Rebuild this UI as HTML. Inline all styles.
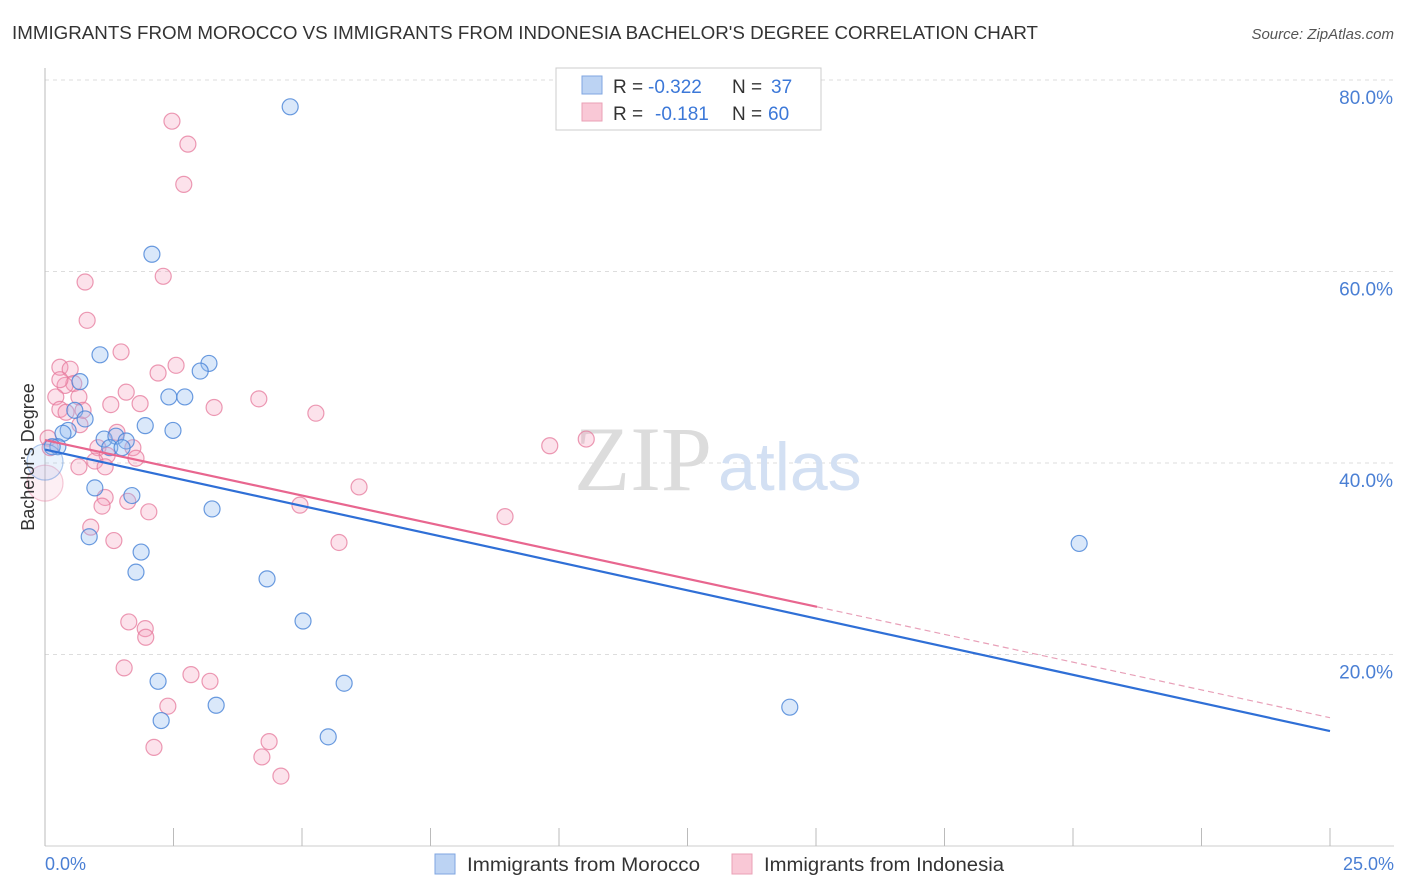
<!DOCTYPE html>
<html><head><meta charset="utf-8"><style>
body{margin:0;background:#fff;font-family:"Liberation Sans",sans-serif}
#c{position:absolute;left:0;top:0}
</style></head><body>
<svg id="c" width="1406" height="892" viewBox="0 0 1406 892">
<text x="12" y="39" font-size="18.5" fill="#333" textLength="1026" lengthAdjust="spacingAndGlyphs">IMMIGRANTS FROM MOROCCO VS IMMIGRANTS FROM INDONESIA BACHELOR'S DEGREE CORRELATION CHART</text>
<text x="1394" y="39" font-size="15" fill="#555" font-style="italic" text-anchor="end">Source: ZipAtlas.com</text>
<g id="grid"></g>
<text x="712" y="490" font-size="92" fill="#dcdcdc" text-anchor="end" font-family="Liberation Serif">ZIP</text>
<text x="718" y="490" font-size="68" fill="#d3e0f3">atlas</text>
<g id="pts"></g>
<g id="lines"></g>
<text transform="translate(34,457) rotate(-90)" font-size="18" fill="#333" text-anchor="middle">Bachelor's Degree</text>
<text x="45" y="870" font-size="18" fill="#4a7fd4">0.0%</text>
<text x="1394" y="870" font-size="18" fill="#4a7fd4" text-anchor="end">25.0%</text>
<g>
<rect x="556" y="68" width="265" height="62" fill="#fff" stroke="#ccc"/>
<rect x="582" y="76" width="20" height="18" fill="#bcd3f3" stroke="#7fa6e0"/>
<rect x="582" y="103" width="20" height="18" fill="#f9c8d6" stroke="#eaa0b6"/>
<text x="613" y="93" font-size="19" fill="#333">R =</text>
<text x="648" y="93" font-size="19" fill="#3c78d8">-0.322</text>
<text x="732" y="93" font-size="19" fill="#333">N =</text>
<text x="771" y="93" font-size="19" fill="#3c78d8">37</text>
<text x="613" y="120" font-size="19" fill="#333">R =</text>
<text x="655" y="120" font-size="19" fill="#3c78d8">-0.181</text>
<text x="732" y="120" font-size="19" fill="#333">N =</text>
<text x="768" y="120" font-size="19" fill="#3c78d8">60</text>
</g>
<g>
<rect x="435" y="854" width="20" height="20" fill="#bcd3f3" stroke="#7fa6e0"/>
<text x="467" y="871" font-size="19" fill="#333" textLength="233" lengthAdjust="spacingAndGlyphs">Immigrants from Morocco</text>
<rect x="732" y="854" width="20" height="20" fill="#f9c8d6" stroke="#eaa0b6"/>
<text x="764" y="871" font-size="19" fill="#333" textLength="240" lengthAdjust="spacingAndGlyphs">Immigrants from Indonesia</text>
</g>
</svg>
<script>
const yTicks=[20,40,60,80];
const xTickCount=10;
const blueX=[4.77,2.08,1.07,3.19,3.02,0.68,2.41,2.72,0.58,0.78,1.95,2.49,0.45,0.35,1.15,1.38,1.58,1.26,1.50,0.25,0.14,0.0,0.97,1.69,3.25,0.86,1.87,1.77,4.32,5.02,2.20,5.82,3.33,2.26,5.51,20.12,14.49];
const blueY=[77.2,61.8,51.3,50.4,49.6,48.5,46.9,46.9,45.5,44.6,43.9,43.4,43.4,43.1,42.5,42.8,42.3,41.6,41.6,41.7,41.7,40.1,37.4,36.6,35.2,32.3,30.7,28.6,27.9,23.5,17.2,17.0,14.7,13.1,11.4,31.6,14.5];
const pinkX=[2.47,2.78,2.70,2.30,0.78,0.82,1.48,0.29,0.49,0.56,0.39,2.20,2.55,1.58,1.28,1.85,3.29,4.16,5.27,0.21,0.29,0.66,0.68,9.82,10.53,1.03,1.71,1.21,0.97,1.77,1.17,0.66,0.06,0.10,0.0,1.17,1.61,1.11,2.02,4.96,6.11,8.95,0.89,1.34,5.72,1.63,1.95,1.96,1.54,2.84,3.21,2.39,2.12,4.36,4.22,4.59,0.29,0.41,1.40,0.74];
const pinkY=[75.7,73.3,69.1,59.5,58.9,54.9,51.6,50.0,49.8,48.3,48.1,49.4,50.2,47.4,46.1,46.2,45.8,46.7,45.2,46.9,45.6,46.9,44.0,41.8,42.5,41.6,41.6,40.8,40.2,40.5,39.6,39.6,42.6,41.6,37.9,36.4,36.0,35.5,34.9,35.6,37.5,34.4,33.3,31.9,31.7,23.4,22.7,21.8,18.6,17.9,17.2,14.6,10.3,10.9,9.3,7.3,48.7,45.3,43.2,45.5];
const blueBig=[21];
const pinkBig=[34];
const blueTrend=[41.4,12.0];
const pinkTrend=[42.4,13.4];
const pinkSolidEnd=15.02;
const X0=45,X1=1330,Y0=846,YPER=191.5/20;
const sx=v=>X0+(X1-X0)*v/25;
const sy=v=>Y0-v*YPER;
const NS='http://www.w3.org/2000/svg';
function mk(t,a,p){const e=document.createElementNS(NS,t);for(const k in a)e.setAttribute(k,a[k]);p.appendChild(e);return e;}
const grid=document.getElementById('grid');
yTicks.forEach(t=>{
  const l=mk('line',{x1:X0,x2:1394,y1:sy(t),y2:sy(t),stroke:'#ddd','stroke-dasharray':'4,4'},grid);
  
  
  const tx=mk('text',{x:1393,y:sy(t)+24,'font-size':19,fill:'#4a7fd4','text-anchor':'end'},grid);
  tx.textContent=t.toFixed(1)+'%';
  
  
});
const ax=mk('line',{x1:X0,x2:X0,y1:68,y2:Y0,stroke:'#bbb'},grid);


const bx=mk('line',{x1:X0,x2:1394,y1:Y0,y2:Y0,stroke:'#ccc'},grid);


for(let i=0;i<=xTickCount;i++){
  const x=sx(25*i/xTickCount);
  const t=mk('line',{x1:x,x2:x,y1:828,y2:Y0,stroke:'#bbb'},grid);
  
  
}
const pts=document.getElementById('pts');
function drawSeries(xs,ys,big,fill,stroke,name){
  xs.forEach((v,i)=>{
    const isBig=big.includes(i);
    const c=mk('circle',{cx:sx(v),cy:sy(ys[i]),r:isBig?18:8,fill:fill,stroke:stroke,'stroke-width':1.2,opacity:isBig?0.55:1},pts);
    
    
  });
}
drawSeries(pinkX,pinkY,pinkBig,'rgba(245,160,190,0.3)','rgba(230,120,155,0.75)','point-indonesia');
drawSeries(blueX,blueY,blueBig,'rgba(150,190,240,0.35)','rgba(70,130,215,0.8)','point-morocco');
const lines=document.getElementById('lines');
const bl=mk('line',{x1:sx(0),y1:sy(blueTrend[0]),x2:sx(25),y2:sy(blueTrend[1]),stroke:'#2f6fd6','stroke-width':2.2},lines);


const pm=v=>pinkTrend[0]+(pinkTrend[1]-pinkTrend[0])*v/25;
const pl=mk('line',{x1:sx(0),y1:sy(pinkTrend[0]),x2:sx(pinkSolidEnd),y2:sy(pm(pinkSolidEnd)),stroke:'#e8668f','stroke-width':2.2},lines);


const pd=mk('line',{x1:sx(pinkSolidEnd),y1:sy(pm(pinkSolidEnd)),x2:sx(25),y2:sy(pinkTrend[1]),stroke:'#e8a0b8','stroke-width':1.2,'stroke-dasharray':'6,4'},lines);


</script>
</body></html>
